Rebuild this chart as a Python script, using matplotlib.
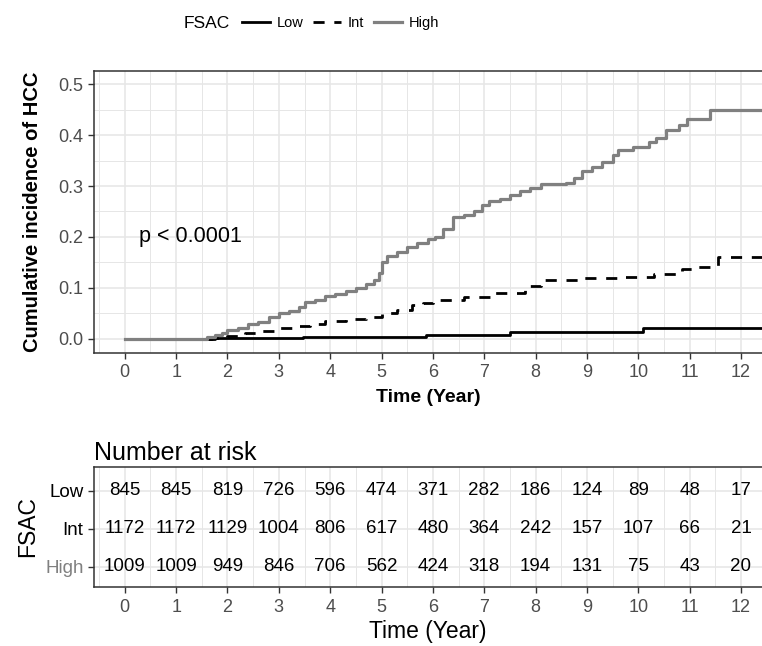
import matplotlib
matplotlib.use("Agg")
import matplotlib.pyplot as plt
from matplotlib.ticker import MultipleLocator, FormatStrFormatter

plt.rcParams["font.family"] = ["Liberation Sans", "DejaVu Sans"]

# cumulative incidence step curves (time in years, incidence)
low_t = [0, 1.7, 3.47, 5.86, 7.5, 10.1, 12.6]
low_v = [0, 0.0005, 0.004, 0.007, 0.0125, 0.022, 0.022]

int_t = [0, 1.75, 2.0, 2.35, 2.6, 2.9, 3.3, 3.6, 3.9, 4.3, 4.7, 5.0, 5.3, 5.6,
         5.8, 6.0, 6.6, 7.2, 7.8, 7.9, 8.1, 8.9, 9.7, 10.3, 10.85, 11.15, 11.55, 12.6]
int_v = [0, 0.002, 0.005, 0.011, 0.016, 0.021, 0.025, 0.029, 0.034, 0.038, 0.043,
         0.05, 0.057, 0.066, 0.07, 0.077, 0.082, 0.09, 0.096, 0.103, 0.115, 0.119,
         0.122, 0.128, 0.138, 0.141, 0.161, 0.161]

high_t = [0, 1.61, 1.75, 1.9, 2.0, 2.2, 2.4, 2.6, 2.8, 3.0, 3.2, 3.4, 3.5, 3.7,
          3.9, 4.1, 4.3, 4.5, 4.7, 4.85, 4.95, 5.0, 5.1, 5.3, 5.5, 5.7, 5.9, 6.05,
          6.2, 6.4, 6.6, 6.8, 6.95, 7.1, 7.3, 7.5, 7.7, 7.9, 8.1, 8.6, 8.75, 8.9,
          9.1, 9.3, 9.5, 9.6, 9.9, 10.2, 10.35, 10.55, 10.8, 10.95, 11.4, 12.6]
high_v = [0, 0.003, 0.008, 0.012, 0.018, 0.022, 0.028, 0.033, 0.043, 0.05, 0.055,
          0.063, 0.072, 0.077, 0.083, 0.087, 0.093, 0.100, 0.108, 0.115, 0.13, 0.15,
          0.163, 0.17, 0.18, 0.188, 0.195, 0.20, 0.215, 0.24, 0.243, 0.25, 0.262,
          0.27, 0.275, 0.282, 0.29, 0.297, 0.304, 0.306, 0.315, 0.33, 0.338, 0.347,
          0.36, 0.37, 0.376, 0.387, 0.395, 0.41, 0.42, 0.432, 0.449, 0.449]

# number at risk table
risk_times = list(range(13))
groups = ["Low", "Int", "High"]
risk_low = [845, 845, 819, 726, 596, 474, 371, 282, 186, 124, 89, 48, 17]
risk_int = [1172, 1172, 1129, 1004, 806, 617, 480, 364, 242, 157, 107, 66, 21]
risk_high = [1009, 1009, 949, 846, 706, 562, 424, 318, 194, 131, 75, 43, 20]

col_low, col_int, col_high = "black", "black", "#808080"
grid_c = "#E6E6E6"
tick_c = "#4D4D4D"
xlim = (-0.6, 12.41)

fig = plt.figure(figsize=(7.62, 6.46), dpi=100)

# ---- top panel: cumulative incidence ----
ax = fig.add_axes([94 / 762, 1 - 353 / 646, 1 - 94 / 762, (353 - 71) / 646])
l1, = ax.step(low_t, low_v, where="post", color=col_low, lw=2.0, zorder=3)
l2, = ax.step(int_t, int_v, where="post", color=col_int, lw=2.0,
              dashes=(4, 3.5), zorder=3)
l3, = ax.step(high_t, high_v, where="post", color=col_high, lw=2.3, zorder=4)
ax.set_xlim(*xlim)
ax.set_ylim(-0.028, 0.526)
ax.xaxis.set_major_locator(MultipleLocator(1))
ax.xaxis.set_minor_locator(MultipleLocator(0.5))
ax.yaxis.set_major_locator(MultipleLocator(0.1))
ax.yaxis.set_minor_locator(MultipleLocator(0.05))
ax.yaxis.set_major_formatter(FormatStrFormatter("%.1f"))
ax.grid(which="major", color=grid_c, lw=1.1, zorder=0)
ax.grid(which="minor", color=grid_c, lw=0.7, zorder=0)
ax.set_axisbelow(True)
ax.tick_params(which="major", labelsize=13, labelcolor=tick_c, color="#333333",
               length=4, width=1, pad=4)
ax.tick_params(which="minor", length=0)
for s in ["left", "bottom", "top"]:
    ax.spines[s].set_color("#333333")
    ax.spines[s].set_linewidth(1.1)
ax.spines["right"].set_visible(False)
ax.set_xlabel("Time (Year)", fontsize=14, fontweight="bold", labelpad=6)
ax.set_ylabel("Cumulative incidence of HCC", fontsize=14.5, fontweight="bold",
              labelpad=11)
ax.text(0.28, 0.2, "p < 0.0001", fontsize=15.5, va="center", ha="left")

# legend across the top
fig.text(184 / 762, 1 - 23 / 646, "FSAC", fontsize=12.5, va="center", ha="left")
fig.legend([l1, l2, l3], groups, loc="center left",
           bbox_to_anchor=(229 / 762, 1 - 23 / 646), ncol=3, frameon=False,
           handlelength=1.9, handletextpad=0.45, columnspacing=0.7,
           prop={"size": 10.5})

# ---- risk table ----
rax = fig.add_axes([94 / 762, 1 - 586.7 / 646, 1 - 94 / 762, (586.7 - 466.7) / 646])
rows = {"Low": (3, risk_low), "Int": (2, risk_int), "High": (1, risk_high)}
for name, (ypos, counts) in rows.items():
    for t, n in zip(risk_times, counts):
        rax.text(t, ypos, str(n), ha="center", va="center", fontsize=13.5,
                 color="black")
rax.set_xlim(*xlim)
rax.set_ylim(0.47, 3.63)
rax.xaxis.set_major_locator(MultipleLocator(1))
rax.xaxis.set_minor_locator(MultipleLocator(0.5))
rax.set_yticks([3, 2, 1])
rax.set_yticklabels(groups)
for lab, c in zip(rax.get_yticklabels(), [col_low, col_int, col_high]):
    lab.set_color(c)
rax.grid(which="major", color=grid_c, lw=1.1, zorder=0)
rax.grid(which="minor", axis="x", color=grid_c, lw=0.7, zorder=0)
rax.set_axisbelow(True)
rax.tick_params(axis="x", which="major", labelsize=13, labelcolor=tick_c,
                color="#333333", length=4, width=1, pad=5)
rax.tick_params(axis="y", labelsize=13.5, color="#333333", length=4, width=1)
rax.tick_params(which="minor", length=0)
for s in ["left", "bottom", "top"]:
    rax.spines[s].set_color("#333333")
    rax.spines[s].set_linewidth(1.1)
rax.spines["right"].set_visible(False)
rax.set_xlabel("Time (Year)", fontsize=16.5, labelpad=3)
rax.set_ylabel("FSAC", fontsize=16.5, labelpad=4)
rax.set_title("Number at risk", fontsize=18, loc="left", pad=5, x=0.0)

fig.savefig("out.png", dpi=100)
